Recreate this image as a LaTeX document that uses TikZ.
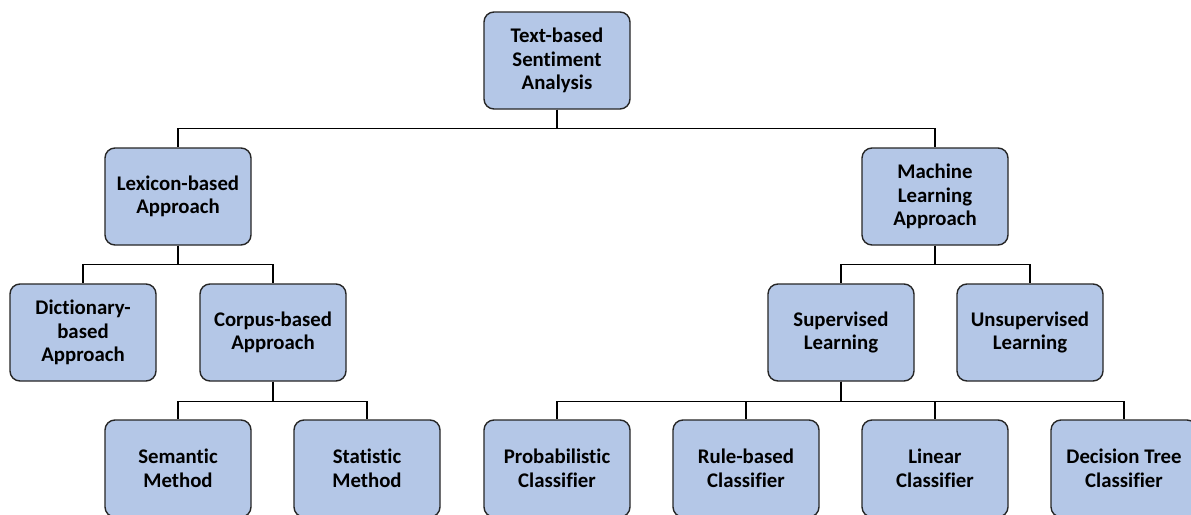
\documentclass[tikz,border=0pt]{standalone}
\usepackage{fontspec}
\setmainfont{Carlito}[Ligatures=NoCommon]
\begin{document}
\begin{tikzpicture}[x=1pt,y=-1pt,
  box/.style={draw=black!85, line width=1.4pt, fill=boxfill, rounded corners=10pt,
    minimum width=146pt, minimum height=97pt, align=center,
    font=\fontsize{20.8}{23.5}\selectfont\bfseries, inner sep=2pt},
  conn/.style={draw=black, line width=1.3pt}]
\definecolor{boxfill}{HTML}{B4C7E7}
\useasboundingbox (0,0) rectangle (1191,514);
\clip (0,0) rectangle (1191,514);
\fill[white] (0,0) rectangle (1191,514);
\node[box] (root) at (557,60.5) {Text-based\\Sentiment\\Analysis};
\node[box] (lex) at (178,196.5) {Lexicon-based\\Approach};
\node[box] (ml) at (935,196.5) {Machine\\Learning\\Approach};
\node[box] (dict) at (83,332.5) {Dictionary-\\based\\Approach};
\node[box] (corp) at (273,332.5) {Corpus-based\\Approach};
\node[box] (sup) at (841,332.5) {Supervised\\Learning};
\node[box] (unsup) at (1030,332.5) {Unsupervised\\Learning};
\node[box] (sem) at (178,468.5) {Semantic\\Method};
\node[box] (stat) at (367,468.5) {Statistic\\Method};
\node[box] (prob) at (557,468.5) {Probabilistic\\Classifier};
\node[box] (rule) at (746,468.5) {Rule-based\\Classifier};
\node[box] (lin) at (935,468.5) {Linear\\Classifier};
\node[box] (dt) at (1124,468.5) {Decision Tree\\Classifier};
\draw[conn] (root.south) -- ++(0,19) -| (lex.north);
\draw[conn] (root.south) -- ++(0,19) -| (ml.north);
\draw[conn] (lex.south) -- ++(0,19) -| (dict.north);
\draw[conn] (lex.south) -- ++(0,19) -| (corp.north);
\draw[conn] (ml.south) -- ++(0,19) -| (sup.north);
\draw[conn] (ml.south) -- ++(0,19) -| (unsup.north);
\draw[conn] (corp.south) -- ++(0,19.5) -| (sem.north);
\draw[conn] (corp.south) -- ++(0,19.5) -| (stat.north);
\draw[conn] (sup.south) -- ++(0,19.5) -| (prob.north);
\draw[conn] (sup.south) -- ++(0,19.5) -| (rule.north);
\draw[conn] (sup.south) -- ++(0,19.5) -| (lin.north);
\draw[conn] (sup.south) -- ++(0,19.5) -| (dt.north);
\end{tikzpicture}
\end{document}
